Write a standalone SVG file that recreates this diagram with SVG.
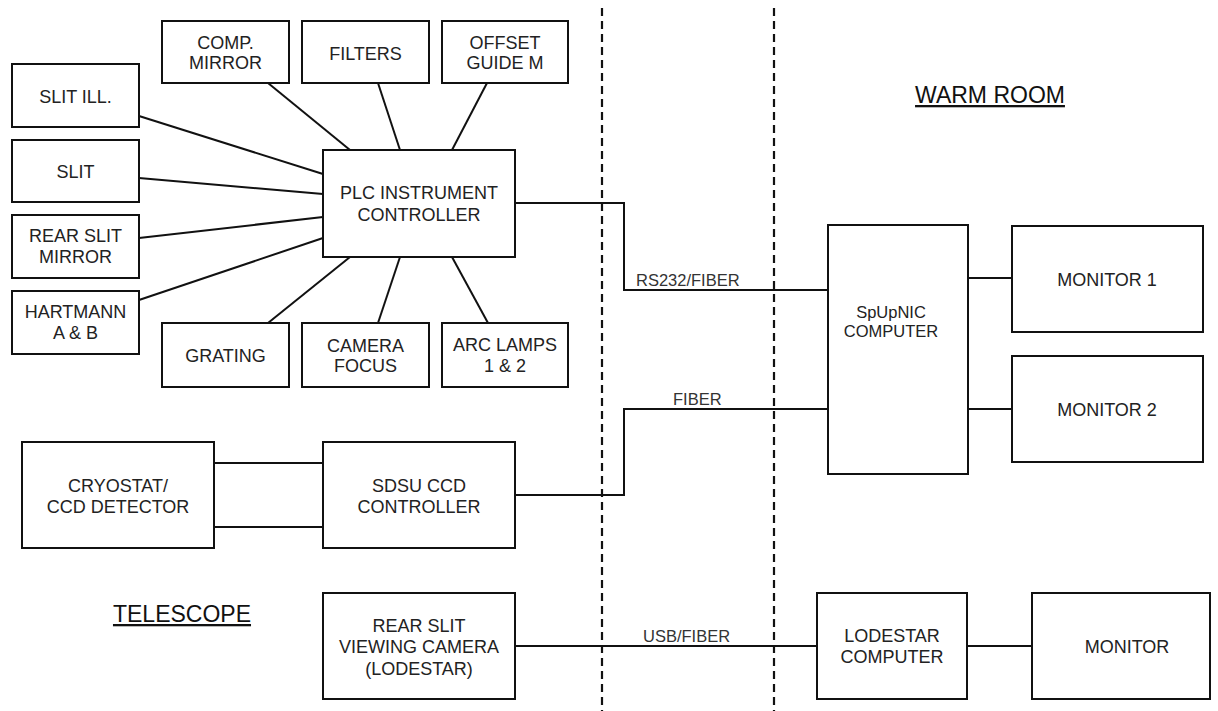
<svg xmlns="http://www.w3.org/2000/svg" width="1218" height="711" viewBox="0 0 1218 711">
<style>
.box{fill:#fff;stroke:#111;stroke-width:2}
.ln{fill:none;stroke:#111;stroke-width:2}
.dash{fill:none;stroke:#111;stroke-width:2.2;stroke-dasharray:8 5}
text{font-family:"Liberation Sans",Arial,sans-serif;fill:#222;text-anchor:middle}
.t{font-size:18px}
.s{font-size:16.5px}
.lab{font-size:16.5px;text-anchor:start;fill:#333}
.h{font-size:23px;fill:#111;text-decoration:underline}
</style>
<rect width="1218" height="711" fill="#fff"/>
<g id="dividers">
<line class="dash" x1="602" y1="8" x2="602" y2="711"/>
<line class="dash" x1="774" y1="8" x2="774" y2="711"/>
</g>
<g id="connectors">
<line class="ln" x1="139" y1="116" x2="323" y2="174"/>
<line class="ln" x1="139" y1="178" x2="323" y2="194"/>
<line class="ln" x1="139" y1="238" x2="323" y2="217"/>
<line class="ln" x1="139" y1="300" x2="323" y2="238"/>
<line class="ln" x1="268" y1="83" x2="350" y2="150"/>
<line class="ln" x1="378" y1="83" x2="400" y2="150"/>
<line class="ln" x1="487" y1="83" x2="452" y2="150"/>
<line class="ln" x1="350" y1="257" x2="268" y2="323"/>
<line class="ln" x1="400" y1="257" x2="378" y2="323"/>
<line class="ln" x1="452" y1="257" x2="488" y2="323"/>
<polyline class="ln" points="515,203 624,203 624,290 828,290"/>
<polyline class="ln" points="515,495 624,495 624,409 828,409"/>
<line class="ln" x1="214" y1="463" x2="323" y2="463"/>
<line class="ln" x1="214" y1="527" x2="323" y2="527"/>
<line class="ln" x1="515" y1="646" x2="817" y2="646"/>
<line class="ln" x1="968" y1="278" x2="1012" y2="278"/>
<line class="ln" x1="968" y1="409" x2="1012" y2="409"/>
<line class="ln" x1="967" y1="646" x2="1032" y2="646"/>
<text class="lab" x="636" y="286">RS232/FIBER</text>
<text class="lab" x="673" y="405">FIBER</text>
<text class="lab" x="643" y="642">USB/FIBER</text>
</g>
<g id="labels">
<text class="h" x="182" y="622">TELESCOPE</text>
<text class="h" x="990" y="103">WARM ROOM</text>
</g>
<g id="comp-mirror"><rect class="box" x="162" y="21" width="127" height="62"/><text class="t" x="225.5" y="49">COMP.</text><text class="t" x="225.5" y="69">MIRROR</text></g>
<g id="filters"><rect class="box" x="302" y="21" width="127" height="62"/><text class="t" x="365.5" y="60">FILTERS</text></g>
<g id="offset-guide"><rect class="box" x="442" y="21" width="126" height="62"/><text class="t" x="505" y="49">OFFSET</text><text class="t" x="505" y="69">GUIDE M</text></g>
<g id="slit-ill"><rect class="box" x="12" y="64" width="127" height="63"/><text class="t" x="75.5" y="103">SLIT ILL.</text></g>
<g id="slit"><rect class="box" x="12" y="140" width="127" height="62"/><text class="t" x="75.5" y="178">SLIT</text></g>
<g id="rear-slit-mirror"><rect class="box" x="12" y="215" width="127" height="63"/><text class="t" x="75.5" y="242">REAR SLIT</text><text class="t" x="75.5" y="263">MIRROR</text></g>
<g id="hartmann"><rect class="box" x="12" y="291" width="127" height="63"/><text class="t" x="75.5" y="318">HARTMANN</text><text class="t" x="75.5" y="339">A &amp; B</text></g>
<g id="plc"><rect class="box" x="323" y="150" width="192" height="107"/><text class="t" x="419" y="199">PLC INSTRUMENT</text><text class="t" x="419" y="221">CONTROLLER</text></g>
<g id="grating"><rect class="box" x="162" y="323" width="127" height="64"/><text class="t" x="225.5" y="362">GRATING</text></g>
<g id="camera-focus"><rect class="box" x="302" y="323" width="127" height="64"/><text class="t" x="365.5" y="352">CAMERA</text><text class="t" x="365.5" y="372">FOCUS</text></g>
<g id="arc-lamps"><rect class="box" x="442" y="323" width="126" height="64"/><text class="t" x="505" y="351">ARC LAMPS</text><text class="t" x="505" y="372">1 &amp; 2</text></g>
<g id="cryostat"><rect class="box" x="22" y="442" width="192" height="106"/><text class="t" x="118" y="492">CRYOSTAT/</text><text class="t" x="118" y="513">CCD DETECTOR</text></g>
<g id="sdsu"><rect class="box" x="323" y="442" width="192" height="106"/><text class="t" x="419" y="492">SDSU CCD</text><text class="t" x="419" y="513">CONTROLLER</text></g>
<g id="rear-slit-camera"><rect class="box" x="323" y="593" width="192" height="106"/><text class="t" x="419" y="632">REAR SLIT</text><text class="t" x="419" y="653">VIEWING CAMERA</text><text class="t" x="419" y="675">(LODESTAR)</text></g>
<g id="spupnic"><rect class="box" x="828" y="225" width="140" height="249"/><text class="s" x="891" y="318">SpUpNIC</text><text class="s" x="891" y="337">COMPUTER</text></g>
<g id="monitor1"><rect class="box" x="1012" y="226" width="191" height="106"/><text class="t" x="1107" y="286">MONITOR 1</text></g>
<g id="monitor2"><rect class="box" x="1012" y="356" width="191" height="106"/><text class="t" x="1107" y="416">MONITOR 2</text></g>
<g id="lodestar"><rect class="box" x="817" y="593" width="150" height="106"/><text class="t" x="892" y="642">LODESTAR</text><text class="t" x="892" y="663">COMPUTER</text></g>
<g id="monitor"><rect class="box" x="1032" y="593" width="178" height="106"/><text class="t" x="1127" y="653">MONITOR</text></g>
</svg>
